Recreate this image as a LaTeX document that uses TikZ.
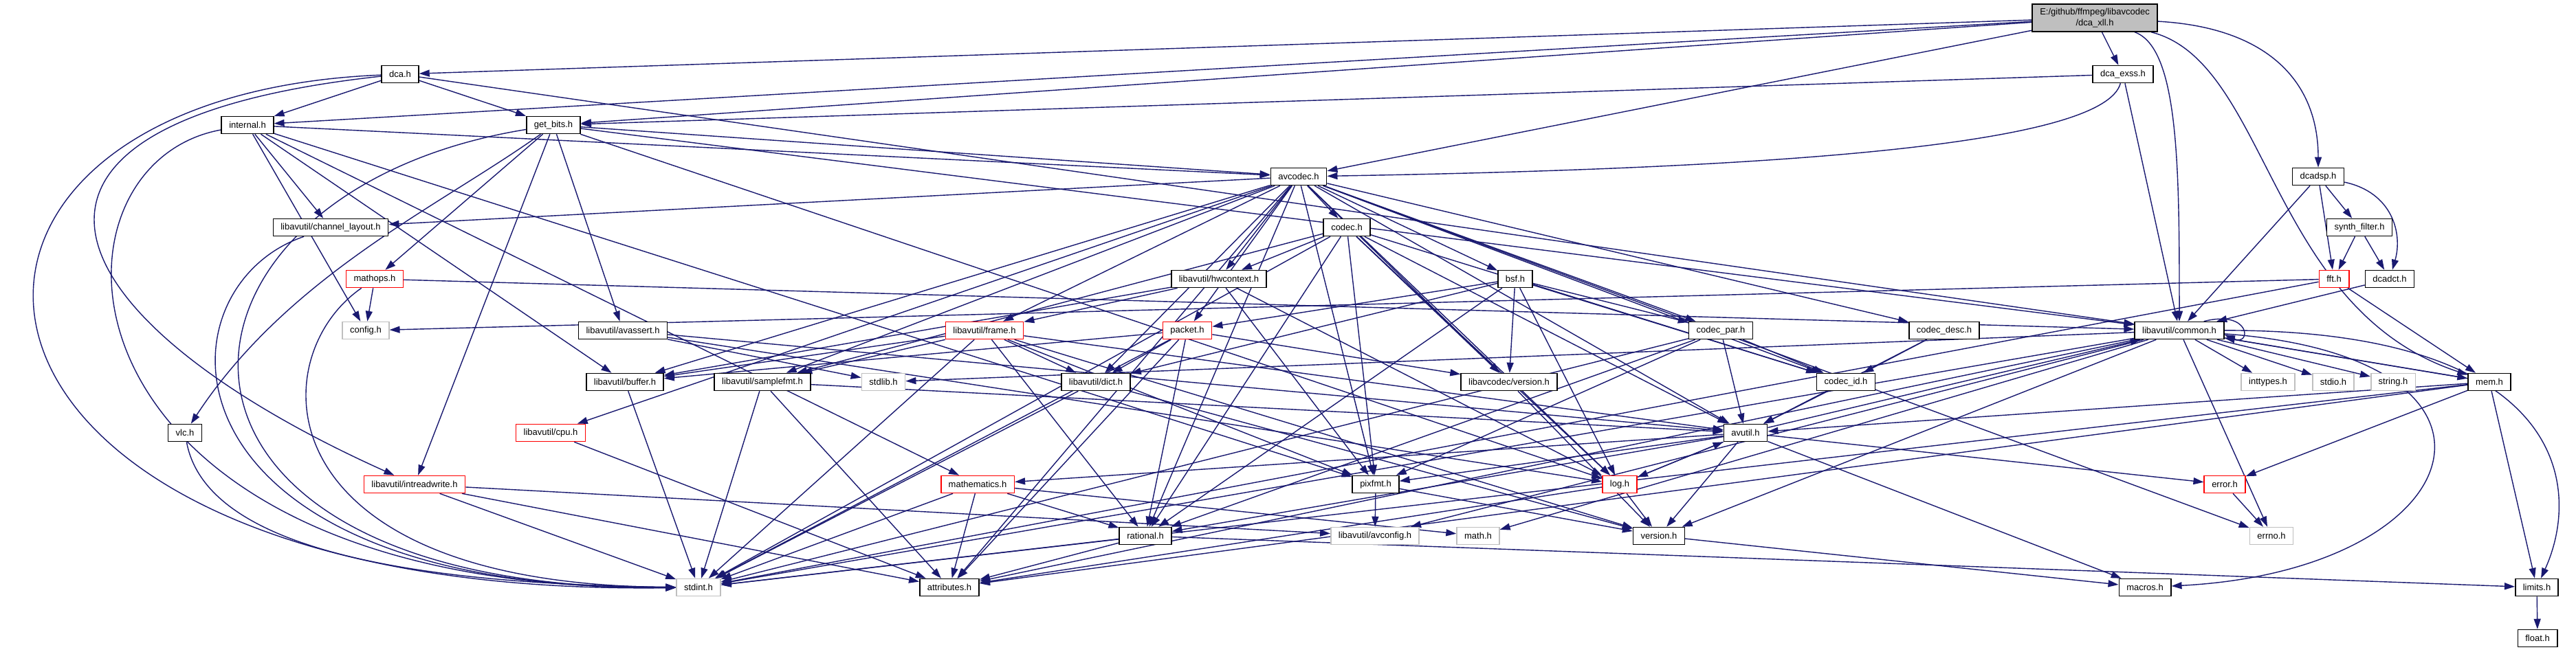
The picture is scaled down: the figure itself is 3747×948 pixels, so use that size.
\documentclass[tikz,border=0pt]{standalone}
\usepackage{fontspec}
\setmainfont{Liberation Sans}
\usepackage{xcolor}
\definecolor{Edge}{HTML}{191970}
\definecolor{Trunc}{HTML}{FF0000}
\definecolor{Sys}{HTML}{BFBFBF}
\definecolor{RootFill}{HTML}{BFBFBF}
\usepackage{tikz}
\usetikzlibrary{arrows.meta}
\pgfdeclarelayer{bg}
\pgfsetlayers{bg,main}
\tikzset{
  hdr/.style={draw=black,line width=0.45pt,fill=white,inner xsep=1.1mm,inner ysep=0pt,
    minimum height=2.5mm,font=\fontsize{3.7}{4.4}\selectfont},
  trunc/.style={hdr,draw=Trunc},
  syshdr/.style={hdr,draw=Sys},
  roothdr/.style={hdr,fill=RootFill,minimum height=4mm,align=center},
  dep/.style={-{Triangle[length=1.5mm,width=1mm]},line width=0.4pt,draw=Edge}
}

\begin{document}
\begin{tikzpicture}[x=0.1mm,y=-0.1mm]
  \useasboundingbox (0,0) rectangle (3747,948);
  \node[roothdr] (root) at (3047,26) {E:/github/ffmpeg/libavcodec\\/dca\_xll.h};
  \node[hdr] (dca) at (582,108) {dca.h};
  \node[hdr] (dcaexss) at (3088,108) {dca\_exss.h};
  \node[hdr] (internal) at (360,182) {internal.h};
  \node[hdr] (getbits) at (805,182) {get\_bits.h};
  \node[hdr] (avcodec) at (1889,257) {avcodec.h};
  \node[hdr] (dcadsp) at (3372,257) {dcadsp.h};
  \node[hdr] (chlayout) at (481,331) {libavutil/channel\_layout.h};
  \node[hdr] (codec) at (1959,331) {codec.h};
  \node[hdr] (synth) at (3432,331) {synth\_filter.h};
  \node[trunc] (mathops) at (545,406) {mathops.h};
  \node[hdr] (hwctx) at (1773,406) {libavutil/hwcontext.h};
  \node[hdr] (bsf) at (2204,406) {bsf.h};
  \node[trunc] (fft) at (3395,406) {fft.h};
  \node[hdr] (dcadct) at (3476,406) {dcadct.h};
  \node[syshdr] (config) at (532,481) {config.h};
  \node[hdr] (avassert) at (906,481) {libavutil/avassert.h};
  \node[trunc] (frame) at (1432,481) {libavutil/frame.h};
  \node[trunc] (packet) at (1727,481) {packet.h};
  \node[hdr] (codecpar) at (2503,481) {codec\_par.h};
  \node[hdr] (codecdesc) at (2828,481) {codec\_desc.h};
  \node[hdr] (common) at (3170,481) {libavutil/common.h};
  \node[hdr] (buffer) at (909,556) {libavutil/buffer.h};
  \node[hdr] (samplefmt) at (1109,556) {libavutil/samplefmt.h};
  \node[syshdr] (stdlib) at (1285,556) {stdlib.h};
  \node[hdr] (dict) at (1594,556) {libavutil/dict.h};
  \node[hdr] (lavcver) at (2195,556) {libavcodec/version.h};
  \node[hdr] (codecid) at (2685,556) {codec\_id.h};
  \node[syshdr] (inttypes) at (3299,556) {inttypes.h};
  \node[syshdr] (stdio) at (3394,556) {stdio.h};
  \node[syshdr] (string) at (3481,556) {string.h};
  \node[hdr] (mem) at (3621,556) {mem.h};
  \node[hdr] (vlc) at (269,630) {vlc.h};
  \node[trunc] (cpu) at (801,630) {libavutil/cpu.h};
  \node[hdr] (avutil) at (2539,630) {avutil.h};
  \node[trunc] (intrw) at (603,705) {libavutil/intreadwrite.h};
  \node[trunc] (mathem) at (1422,705) {mathematics.h};
  \node[hdr] (pixfmt) at (2001,705) {pixfmt.h};
  \node[trunc] (log) at (2356,705) {log.h};
  \node[trunc] (error) at (3236,705) {error.h};
  \node[hdr] (rational) at (1666,780) {rational.h};
  \node[syshdr] (avconfig) at (2000,780) {libavutil/avconfig.h};
  \node[syshdr] (math) at (2150,780) {math.h};
  \node[hdr] (version) at (2413,780) {version.h};
  \node[syshdr] (errno) at (3304,780) {errno.h};
  \node[syshdr] (stdint) at (1016,855) {stdint.h};
  \node[hdr] (attrib) at (1381,855) {attributes.h};
  \node[hdr] (macros) at (3120,855) {macros.h};
  \node[hdr] (limits) at (3690,855) {limits.h};
  \node[hdr] (float) at (3691,929) {float.h};
  \begin{pgfonlayer}{bg}
  \fill[white] (0,0) rectangle (3747,948);
  \foreach \t in {dca,internal,getbits,avcodec,dcaexss} \draw[dep] (root) -- (\t);
  \draw[dep] (root) .. controls (3170,70) and (3170,250) .. (common);
  \draw[dep] (root) .. controls (3300,90) and (3300,450) .. (mem);
  \draw[dep] (root) .. controls (3300,40) and (3372,120) .. (dcadsp);
  \foreach \t in {internal,getbits,common} \draw[dep] (dca) -- (\t);
  \draw[dep] (dca) .. controls (-200,140) and (-150,870) .. (stdint);
  \draw[dep] (dca) .. controls (-80,180) and (80,470) .. (intrw);
  \foreach \t in {getbits,common} \draw[dep] (dcaexss) -- (\t);
  \draw[dep] (dcaexss) .. controls (3060,210) and (2600,245) .. (avcodec);
  \foreach \t in {chlayout,config,buffer,mathem,pixfmt,avcodec} \draw[dep] (internal) -- (\t);
  \draw[dep] (internal) .. controls (40,240) and (60,860) .. (stdint);
  \foreach \t in {intrw,log,avassert,avcodec,mathops,common} \draw[dep] (getbits) -- (\t);
  \draw[dep] (getbits) .. controls (640,300) and (420,400) .. (vlc);
  \draw[dep] (getbits) .. controls (200,280) and (150,860) .. (stdint);
  \foreach \t in {errno,samplefmt,attrib,avutil,buffer,cpu,chlayout,dict,frame,hwctx,log,pixfmt,
    rational,bsf,codec,codecdesc,codecpar,codecid,packet,lavcver} \draw[dep] (avcodec) -- (\t);
  \foreach \t in {synth,fft,common} \draw[dep] (dcadsp) -- (\t);
  \draw[dep] (dcadsp) .. controls (3480,280) and (3495,340) .. (dcadct);
  \draw[dep] (chlayout) .. controls (220,420) and (220,860) .. (stdint);
  \foreach \t in {stdint,avutil,hwctx,log,pixfmt,rational,samplefmt,codecid,lavcver} \draw[dep] (codec) -- (\t);
  \foreach \t in {fft,dcadct} \draw[dep] (synth) -- (\t);
  \foreach \t in {config,common} \draw[dep] (mathops) -- (\t);
  \draw[dep] (mathops) .. controls (380,520) and (380,850) .. (stdint);
  \foreach \t in {frame,buffer,log,pixfmt} \draw[dep] (hwctx) -- (\t);
  \foreach \t in {dict,log,rational,codecid,codecpar,packet,lavcver} \draw[dep] (bsf) -- (\t);
  \foreach \t in {config,stdint,mem} \draw[dep] (fft) -- (\t);
  \draw[dep] (dcadct) -- (common);
  \foreach \t in {stdlib,avutil,log} \draw[dep] (avassert) -- (\t);
  \foreach \t in {stdint,avutil,buffer,dict,rational,samplefmt,pixfmt,version} \draw[dep] (frame) -- (\t);
  \foreach \t in {stdint,attrib,buffer,dict,rational,lavcver} \draw[dep] (packet) -- (\t);
  \foreach \t in {stdint,avutil,rational,pixfmt,codecid} \draw[dep] (codecpar) -- (\t);
  \foreach \t in {avutil,codecid} \draw[dep] (codecdesc) -- (\t);
  \foreach \t in {errno,inttypes,math,stdint,stdio,stdlib,string,attrib,version,avconfig,mem} \draw[dep] (common) -- (\t);
  \draw[dep] (common) .. controls (3720,480) and (3760,700) .. (limits);
  \draw[dep] (common) .. controls (3700,520) and (3600,830) .. (macros);
  \draw[dep] ([xshift=-3mm]common.north east) .. controls (3275,450) and (3275,505) .. ([yshift=-0.6mm]common.east);
  \draw[dep] (buffer) -- (stdint);
  \foreach \t in {stdint,avutil,attrib} \draw[dep] (samplefmt) -- (\t);
  \foreach \t in {stdint,version} \draw[dep] (dict) -- (\t);
  \draw[dep] (lavcver) -- (version);
  \draw[dep] (codecid) -- (avutil);
  \foreach \t in {limits,stdint,attrib,error,avutil,common} \draw[dep] (mem) -- (\t);
  \draw[dep] (vlc) .. controls (300,800) and (600,850) .. (stdint);
  \draw[dep] (cpu) -- (attrib);
  \foreach \t in {common,error,rational,version,macros,mathem,log,pixfmt} \draw[dep] (avutil) -- (\t);
  \foreach \t in {stdint,avconfig,attrib} \draw[dep] (intrw) -- (\t);
  \foreach \t in {stdint,math,attrib,rational} \draw[dep] (mathem) -- (\t);
  \foreach \t in {avconfig,version} \draw[dep] (pixfmt) -- (\t);
  \foreach \t in {avutil,attrib,version} \draw[dep] (log) -- (\t);
  \draw[dep] (error) -- (errno);
  \foreach \t in {stdint,limits,attrib} \draw[dep] (rational) -- (\t);
  \draw[dep] (version) -- (macros);
  \draw[dep] (limits) -- (float);
  \end{pgfonlayer}
\end{tikzpicture}
\end{document}
